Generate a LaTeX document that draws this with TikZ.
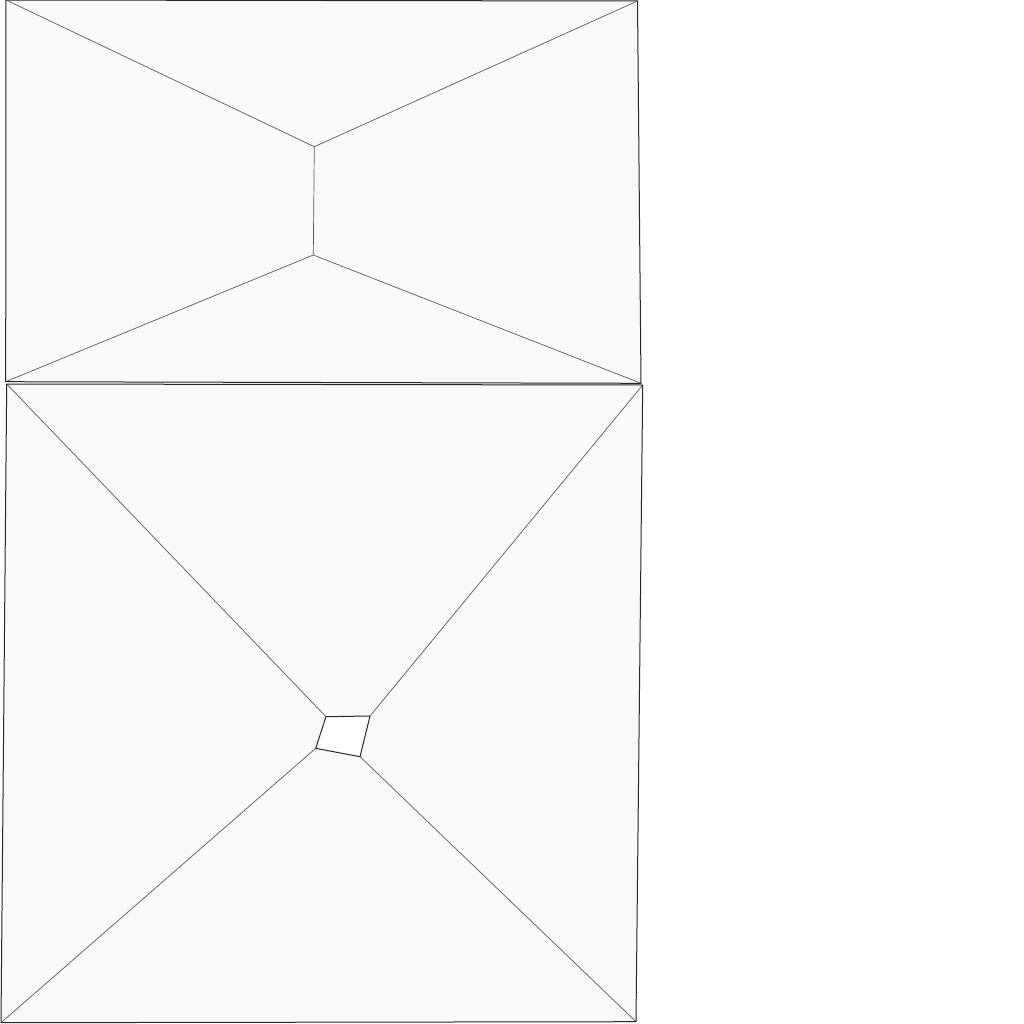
\documentclass[tikz,border=0pt]{standalone}
\begin{document}
\begin{tikzpicture}[x=1pt,y=-1pt,
  face/.style={fill=black!2.5},
  edge/.style={draw=black!85,line width=1pt,line join=round},
  spoke/.style={draw=black!65,line width=0.7pt}]
\useasboundingbox (0,0) rectangle (1024,1024);
% top quad
\coordinate (a1) at (6,0);
\coordinate (a2) at (637.5,1);
\coordinate (a3) at (641,383.3);
\coordinate (a4) at (5.7,381.7);
\coordinate (p) at (314.3,146.7);
\coordinate (q) at (313.3,255);
% bottom quad
\coordinate (b1) at (6.7,384);
\coordinate (b2) at (642.7,385);
\coordinate (b3) at (636,1021.7);
\coordinate (b4) at (1,1022.7);
\coordinate (s1) at (326,716.7);
\coordinate (s2) at (370,716);
\coordinate (s3) at (360,756.7);
\coordinate (s4) at (315.7,748.3);
\fill[face] (a1) -- (a2) -- (a3) -- (a4) -- cycle;
\fill[face] (b1) -- (b2) -- (b3) -- (b4) -- cycle;
\fill[white] (s1) -- (s2) -- (s3) -- (s4) -- cycle;
\draw[spoke] (a1) -- (p) -- (a2);
\draw[spoke] (a4) -- (q) -- (a3);
\draw[spoke] (p) -- (q);
\draw[spoke] (b1) -- (s1);
\draw[spoke] (b2) -- (s2);
\draw[spoke] (b3) -- (s3);
\draw[spoke] (b4) -- (s4);
\draw[edge] (s1) -- (s2) -- (s3) -- (s4) -- cycle;
\draw[edge] (a1) -- (a2) -- (a3) -- (a4) -- cycle;
\draw[edge] (b1) -- (b2) -- (b3) -- (b4) -- cycle;
\end{tikzpicture}
\end{document}
